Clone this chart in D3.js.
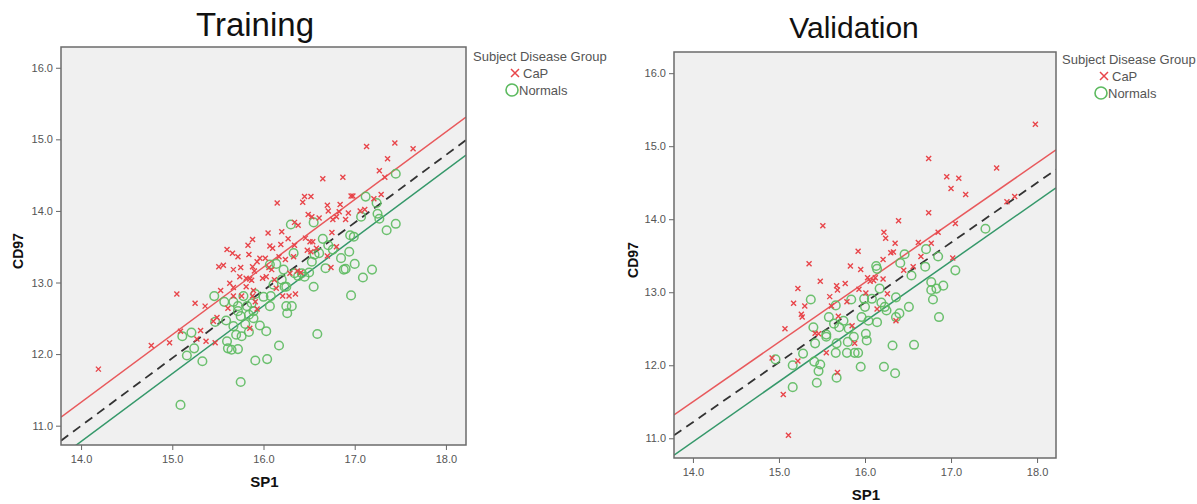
<!DOCTYPE html>
<html>
<head>
<meta charset="utf-8">
<script src="https://cdn.jsdelivr.net/npm/d3@7"></script>
<style>
  body { margin: 0; background: #fff; }
  svg { font-family: Arial, "Liberation Sans", sans-serif; }
</style>
</head>
<body>
<div id="chart"></div>
<script>
// ---- data ----
var xTicks = [14, 15, 16, 17, 18];
var yTicks = [11, 12, 13, 14, 15, 16];
var legendLabels = ["CaP", "Normals"];

var trainCaP = [
  [14.19,11.79],[14.77,12.12],[14.97,12.16],[15.05,12.84],[15.25,12.71],[15.36,12.67],[15.09,12.32],[15.31,12.33],
  [15.27,12.21],[15.37,12.18],[15.47,12.16],[15.49,12.51],[15.45,12.46],[15.51,13.22],[15.56,13.24],[15.60,13.46],
  [15.66,13.41],[15.72,13.36],[15.67,13.18],[15.53,12.89],[15.61,12.64],[15.63,12.99],[15.67,12.93],[15.74,13.08],
  [15.75,13.21],[15.83,13.52],[15.88,13.60],[15.84,13.39],[15.88,13.22],[15.90,13.16],[15.85,13.05],[15.87,13.03],
  [15.81,12.94],[15.89,12.89],[15.93,13.29],[15.96,13.34],[15.91,12.73],[15.93,12.63],[15.85,12.36],[16.02,13.34],
  [16.05,13.69],[16.07,13.51],[16.03,13.08],[16.06,13.21],[16.09,13.18],[16.12,13.04],[16.14,12.92],[16.10,13.48],
  [16.17,13.36],[16.19,13.53],[16.20,13.71],[16.15,14.11],[16.27,13.61],[16.24,13.32],[16.21,12.81],[16.28,12.81],
  [16.34,13.52],[16.34,13.84],[16.38,13.80],[16.37,13.16],[16.41,13.14],[16.35,12.84],[16.43,14.12],[16.45,14.20],
  [16.52,14.20],[16.46,13.62],[16.49,13.95],[16.53,13.92],[16.51,13.57],[16.54,13.57],[16.52,13.43],[16.48,13.45],
  [16.61,13.90],[16.65,14.45],[16.70,14.08],[16.71,14.00],[16.70,13.37],[16.74,13.21],[16.75,13.70],[16.76,13.88],
  [16.80,13.92],[16.83,13.99],[16.90,13.88],[16.93,13.97],[16.87,14.47],[16.96,14.21],[16.98,14.21],[17.06,14.00],
  [17.11,14.02],[17.13,14.90],[17.21,14.17],[17.27,14.56],[17.29,14.23],[17.33,14.47],[17.36,14.73],[17.44,14.95],
  [17.64,14.87],[16.84,14.09],[15.81,13.06],[15.76,12.81],[15.67,12.81],[15.88,12.81],[16.80,13.50],[15.99,13.06],
  [16.33,13.36],[16.58,13.48],[16.29,13.13]
];
var trainNormals = [
  [15.09,11.29],[15.11,12.25],[15.16,11.98],[15.21,12.30],[15.24,12.08],[15.33,11.90],[15.46,12.81],[15.47,12.45],
  [15.57,12.73],[15.59,12.47],[15.60,12.18],[15.61,12.08],[15.65,12.06],[15.67,12.39],[15.70,12.27],[15.72,12.67],
  [15.72,12.07],[15.75,12.53],[15.76,12.25],[15.75,11.61],[15.78,12.81],[15.80,12.42],[15.84,12.31],[15.82,12.67],
  [15.87,12.71],[15.89,12.60],[15.91,12.84],[15.91,11.91],[15.96,12.40],[16.00,12.80],[16.03,12.32],[16.04,11.93],
  [16.07,12.67],[16.08,12.81],[16.11,12.97],[16.14,13.26],[16.17,12.12],[16.20,13.04],[16.22,13.18],[16.23,12.94],
  [16.25,12.67],[16.26,12.57],[16.30,13.81],[16.31,12.67],[16.33,13.41],[16.34,13.13],[16.38,13.09],[16.45,13.08],
  [16.50,13.14],[16.55,12.94],[16.55,13.84],[16.59,12.28],[16.53,13.29],[16.56,13.39],[16.61,13.41],[16.65,13.61],
  [16.68,13.20],[16.71,13.52],[16.76,13.46],[16.85,13.34],[16.88,13.18],[16.90,13.19],[16.94,13.43],[16.95,13.66],
  [16.96,12.82],[16.99,13.64],[17.00,13.26],[17.07,13.92],[17.09,13.07],[17.12,14.20],[17.19,13.18],[17.24,14.11],
  [17.25,13.96],[17.27,13.89],[17.35,13.73],[17.45,13.82],[17.45,14.52],[15.67,12.73],[15.72,12.60],[15.84,12.55],
  [15.89,12.50],[16.07,13.25],[16.25,12.94],[16.42,13.13]
];
var trainCaPLine = [[13.78,11.12],[18.22,15.31]];
var trainMeanLine = [[13.78,10.79],[18.22,14.99]];
var trainNormalsLine = [[13.78,10.57],[18.22,14.78]];

var validCaP = [
  [15.11,11.04],[15.05,11.60],[14.92,12.10],[15.07,12.50],[15.22,12.06],[15.17,12.85],[15.22,13.05],[15.26,12.70],
  [15.27,12.66],[15.30,12.81],[15.35,13.39],[15.42,12.44],[15.48,13.15],[15.51,13.91],[15.55,12.17],[15.59,12.94],
  [15.61,12.81],[15.67,13.09],[15.68,13.03],[15.69,12.67],[15.68,11.90],[15.77,13.12],[15.79,12.87],[15.83,13.36],
  [15.85,12.54],[15.88,12.30],[15.92,13.56],[15.93,13.04],[15.95,13.31],[16.01,12.99],[16.03,13.20],[16.06,13.15],
  [16.10,13.16],[16.14,12.77],[16.21,13.45],[16.22,13.82],[16.24,13.74],[16.21,13.18],[16.26,12.98],[16.30,13.54],
  [16.33,13.55],[16.35,13.67],[16.36,12.61],[16.39,13.98],[16.45,13.30],[16.56,13.35],[16.62,13.68],[16.65,13.49],
  [16.74,14.83],[16.74,14.09],[16.77,13.67],[16.85,13.82],[16.95,14.58],[17.00,14.42],[17.02,13.47],[17.05,13.94],
  [17.09,14.56],[17.17,14.34],[17.53,14.70],[17.65,14.24],[17.74,14.31],[17.98,15.30],[16.12,13.20],[15.46,12.43]
];
var validNormals = [
  [14.96,12.08],[15.16,11.70],[15.16,12.00],[15.28,12.16],[15.37,12.90],[15.40,12.52],[15.41,12.05],[15.42,12.30],
  [15.44,11.76],[15.46,11.92],[15.48,12.01],[15.55,12.42],[15.55,12.39],[15.58,12.66],[15.64,12.57],[15.66,12.82],
  [15.66,12.17],[15.67,12.30],[15.67,11.83],[15.70,12.52],[15.75,12.61],[15.79,12.17],[15.80,12.32],[15.81,12.50],
  [15.84,12.90],[15.87,12.39],[15.88,12.17],[15.92,12.17],[15.95,11.98],[15.96,12.66],[15.99,12.91],[16.00,12.80],
  [16.01,12.43],[16.02,12.34],[16.04,12.61],[16.08,12.91],[16.14,12.59],[16.13,13.36],[16.14,13.32],[16.17,13.05],
  [16.19,12.86],[16.22,11.98],[16.23,12.80],[16.25,12.75],[16.32,12.27],[16.35,11.89],[16.36,12.66],[16.36,12.93],
  [16.40,12.71],[16.41,13.40],[16.46,13.52],[16.51,12.80],[16.54,13.23],[16.57,12.28],[16.70,13.35],[16.71,13.59],
  [16.77,13.14],[16.77,13.03],[16.79,12.90],[16.83,13.05],[16.85,13.49],[16.86,12.66],[16.91,13.09],[17.05,13.30],
  [17.40,13.87]
];
var validCaPLine = [[13.78,11.32],[18.22,14.95]];
var validMeanLine = [[13.78,11.04],[18.22,14.68]];
var validNormalsLine = [[13.78,10.77],[18.22,14.43]];

var xDomain = [13.78, 18.22];
var yDomain = [10.73, 16.29];

// ---- layout / style ----
var W = 1197, H = 504;
var colCaP = "#e8454a", colNorm = "#5cba5f";
var lineCaP = "#e8595c", lineNorm = "#35986a", lineMean = "#333";

var svg = d3.select("#chart").append("svg")
  .attr("width", W)
  .attr("height", H);

var panels = [
  { title: "Training", titleX: 255, titleY: 36, titleSize: 33,
    left: 61, top: 47, right: 466, bottom: 445,
    cap: trainCaP, norm: trainNormals,
    lines: [[trainCaPLine, lineCaP, null], [trainMeanLine, lineMean, "9,6"], [trainNormalsLine, lineNorm, null]],
    yLabX: 18, xLabY: 487, legX: 473, legY: 61 },
  { title: "Validation", titleX: 854, titleY: 38, titleSize: 30,
    left: 674, top: 52, right: 1056, bottom: 458,
    cap: validCaP, norm: validNormals,
    lines: [[validCaPLine, lineCaP, null], [validMeanLine, lineMean, "9,6"], [validNormalsLine, lineNorm, null]],
    yLabX: 633, xLabY: 500, legX: 1062, legY: 64 }
];

panels.forEach(function(p, i) {
  var x = d3.scaleLinear().domain(xDomain).range([p.left, p.right]);
  var y = d3.scaleLinear().domain(yDomain).range([p.bottom, p.top]);

  // title
  svg.append("text")
    .attr("x", p.titleX)
    .attr("y", p.titleY)
    .attr("text-anchor", "middle")
    .attr("font-size", p.titleSize + "px")
    .attr("fill", "#111")
    .text(p.title);

  // plot background
  svg.append("rect")
    .attr("x", p.left).attr("y", p.top)
    .attr("width", p.right - p.left).attr("height", p.bottom - p.top)
    .attr("fill", "#f0f0f0");

  // clip for the fit lines
  svg.append("clipPath").attr("id", "clip" + i)
    .append("rect")
    .attr("x", p.left).attr("y", p.top)
    .attr("width", p.right - p.left).attr("height", p.bottom - p.top);

  // axes
  var xAxis = d3.axisBottom(x).tickValues(xTicks).tickFormat(d3.format(".1f")).tickSizeOuter(0).tickSize(5);
  var yAxis = d3.axisLeft(y).tickValues(yTicks).tickFormat(d3.format(".1f")).tickSizeOuter(0).tickSize(5);

  var gx = svg.append("g")
    .attr("transform", `translate(0, ${p.bottom})`)
    .call(xAxis);
  var gy = svg.append("g")
    .attr("transform", `translate(${p.left}, 0)`)
    .call(yAxis);
  [gx, gy].forEach(function(g) {
    g.select(".domain").remove();
    g.selectAll(".tick line").attr("stroke", "#666");
    g.selectAll(".tick text")
      .attr("fill", "#555")
      .attr("font-size", "11px")
      .attr("font-family", "Arial, 'Liberation Sans', sans-serif");
  });
  gx.selectAll(".tick text").attr("dy", "0.95em");

  // fit lines
  var line = d3.line().x(d => x(d[0])).y(d => y(d[1]));
  var lg = svg.append("g").attr("clip-path", `url(#clip${i})`);
  p.lines.forEach(function(l) {
    lg.append("path")
      .attr("d", line(l[0]))
      .attr("fill", "none")
      .attr("stroke", l[1])
      .attr("stroke-width", l[2] ? 1.8 : 1.5)
      .attr("stroke-dasharray", l[2]);
  });

  // points
  svg.append("g").selectAll("circle")
    .data(p.norm)
    .enter()
    .append("circle")
    .attr("cx", d => x(d[0]))
    .attr("cy", d => y(d[1]))
    .attr("r", 4.3)
    .attr("fill", "none")
    .attr("stroke", colNorm)
    .attr("stroke-width", 1.5)
    .attr("opacity", 0.9);

  svg.append("g").selectAll("path")
    .data(p.cap)
    .enter()
    .append("path")
    .attr("transform", d => `translate(${x(d[0])}, ${y(d[1])})`)
    .attr("d", "M-2.5,-2.5L2.5,2.5M-2.5,2.5L2.5,-2.5")
    .attr("stroke", colCaP)
    .attr("stroke-width", 1.4);

  // frame
  svg.append("rect")
    .attr("x", p.left).attr("y", p.top)
    .attr("width", p.right - p.left).attr("height", p.bottom - p.top)
    .attr("fill", "none")
    .attr("stroke", "#6b6b6b")
    .attr("stroke-width", 1.5);

  // axis labels
  svg.append("text")
    .attr("transform", `translate(${p.yLabX}, ${(p.top + p.bottom) / 2 + 5}) rotate(-90)`)
    .attr("text-anchor", "middle")
    .attr("dy", "0.35em")
    .attr("font-size", "14px")
    .attr("font-weight", "bold")
    .attr("fill", "#111")
    .text("CD97");

  svg.append("text")
    .attr("x", (p.left + p.right) / 2 + 1)
    .attr("y", p.xLabY)
    .attr("text-anchor", "middle")
    .attr("font-size", "15px")
    .attr("font-weight", "bold")
    .attr("fill", "#111")
    .text("SP1");

  // legend
  var leg = svg.append("g").attr("transform", `translate(${p.legX}, ${p.legY})`);
  leg.append("text")
    .attr("x", 0).attr("y", 0)
    .attr("font-size", "13px")
    .attr("fill", "#555")
    .text("Subject Disease Group");
  leg.append("path")
    .attr("transform", "translate(42, 12)")
    .attr("d", "M-4,-4L4,4M-4,4L4,-4")
    .attr("stroke", colCaP)
    .attr("stroke-width", 1.5);
  leg.append("text")
    .attr("x", 50).attr("y", 16.5)
    .attr("font-size", "13px")
    .attr("fill", "#555")
    .text(legendLabels[0]);
  leg.append("circle")
    .attr("cx", 39).attr("cy", 29)
    .attr("r", 6)
    .attr("fill", "none")
    .attr("stroke", colNorm)
    .attr("stroke-width", 1.6);
  leg.append("text")
    .attr("x", 46).attr("y", 33.5)
    .attr("font-size", "13px")
    .attr("fill", "#555")
    .text(legendLabels[1]);
});
</script>
</body>
</html>
